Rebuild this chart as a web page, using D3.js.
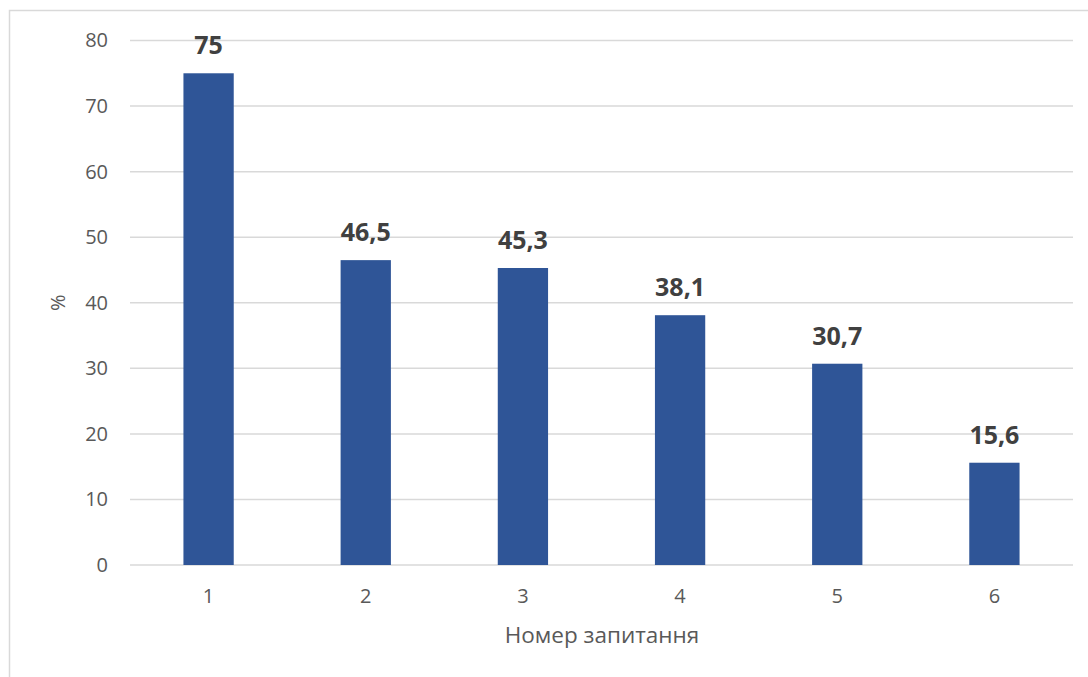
<!DOCTYPE html>
<html lang="uk">
<head>
    <meta charset="utf-8" />
    <script src="https://d3js.org/d3.v7.min.js"></script>
    <style>
        body {
            margin: 0;
            background: #fff;
        }
        svg text {
            font-family: "Open Sans", "Noto Sans", sans-serif;
        }
    </style>
</head>
<body>
    <script>
        // Дані діаграми
        var questions = ["1", "2", "3", "4", "5", "6"];
        var percents = [75, 46.5, 45.3, 38.1, 30.7, 15.6];
        var percentLabels = ["75", "46,5", "45,3", "38,1", "30,7", "15,6"];
        var yTicks = [0, 10, 20, 30, 40, 50, 60, 70, 80];

        var width = 1088, height = 677;
        var margin = { top: 40.5, right: 15, bottom: 112, left: 130 };

        var svg = d3.select("body").append("svg")
            .attr("width", width)
            .attr("height", height);

        // Рамка області діаграми
        svg.append("rect")
            .attr("x", 9.5)
            .attr("y", 10.5)
            .attr("width", width + 10)
            .attr("height", height + 10)
            .attr("fill", "none")
            .attr("stroke", "#d9d9d9")
            .attr("stroke-width", 1.5);

        var x = d3.scaleBand()
            .domain(questions)
            .range([margin.left, width - margin.right])
            .paddingInner(0.68)
            .paddingOuter(0.34);

        var y = d3.scaleLinear()
            .domain([0, 80])
            .range([height - margin.bottom, margin.top]);

        // Лінії сітки
        svg.append("g")
            .selectAll("line")
            .data(yTicks)
            .join("line")
            .attr("x1", margin.left)
            .attr("x2", width - margin.right)
            .attr("y1", function (d) { return y(d); })
            .attr("y2", function (d) { return y(d); })
            .attr("stroke", "#d9d9d9")
            .attr("stroke-width", 1.5);

        // Вісь Y
        var yAxis = svg.append("g")
            .attr("transform", "translate(" + (margin.left - 22) + ",0)")
            .call(d3.axisLeft(y).tickValues(yTicks).tickSize(0).tickPadding(0));
        yAxis.select(".domain").remove();
        yAxis.selectAll("text")
            .attr("fill", "#595959")
            .style("font-size", "20px");

        // Вісь X
        var xAxis = svg.append("g")
            .attr("transform", "translate(0," + (height - margin.bottom) + ")")
            .call(d3.axisBottom(x).tickSize(0).tickPadding(24));
        xAxis.select(".domain").remove();
        xAxis.selectAll("text")
            .attr("fill", "#595959")
            .style("font-size", "20px");

        // Стовпці
        svg.append("g")
            .selectAll("rect")
            .data(percents)
            .join("rect")
            .attr("x", function (d, i) { return x(questions[i]); })
            .attr("y", function (d) { return y(d); })
            .attr("width", x.bandwidth())
            .attr("height", function (d) { return y(0) - y(d); })
            .attr("fill", "#2f5597");

        // Підписи значень
        svg.append("g")
            .selectAll("text")
            .data(percents)
            .join("text")
            .attr("x", function (d, i) { return x(questions[i]) + x.bandwidth() / 2; })
            .attr("y", function (d) { return y(d) - 19; })
            .attr("text-anchor", "middle")
            .attr("fill", "#404040")
            .style("font-size", "25px")
            .style("font-weight", "bold")
            .text(function (d, i) { return percentLabels[i]; });

        // Назви осей
        svg.append("text")
            .attr("x", 602)
            .attr("y", 643)
            .attr("text-anchor", "middle")
            .attr("fill", "#595959")
            .style("font-size", "22.5px")
            .text("Номер запитання");

        svg.append("text")
            .attr("transform", "translate(65," + y(40) + ") rotate(-90)")
            .attr("text-anchor", "middle")
            .attr("fill", "#595959")
            .style("font-size", "20px")
            .text("%");
    </script>
</body>
</html>
